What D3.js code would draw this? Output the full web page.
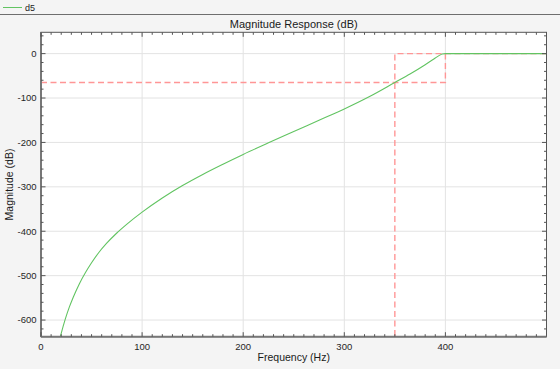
<!DOCTYPE html>
<html><head><meta charset="utf-8">
<script src="https://cdn.jsdelivr.net/npm/d3@7"></script>
<style>
html,body{margin:0;padding:0;background:#f4f4f4;}
svg{display:block;font-family:"Liberation Sans",Arial,Helvetica,sans-serif;}
</style></head>
<body>
<svg id="c" width="560" height="369"></svg>
<script>
// ---- data ----
const seriesName = "d5";
const freqHz = [16,18,20,24,28,32,38,44,50,57,65,75,85,100,120,140,160,180,200,225,250,275,300,325,350,365,380,390,394,397,400,450,500];
const magDb  = [-668,-648,-630,-598,-571,-548,-518,-493,-471,-448.5,-427,-404,-384,-357,-325,-297,-272,-249,-227,-201,-175.5,-150,-124.5,-96.5,-65,-46,-25,-10,-4,-0.8,0,0,0];
// specification mask (stopband edge 350 Hz, passband edge 400 Hz, Astop 65 dB)
const maskStopF = [0, 400, 400];
const maskStopA = [-65, -65, 0];
const maskPassF = [350, 350, 500];
const maskPassA = [-700, 0, 0];
const xTicks = [0,100,200,300,400];
const yTicks = [0,-100,-200,-300,-400,-500,-600];
const xDomain = [0, 500];
const yDomain = [-637.5, 48];
const titleText = "Magnitude Response (dB)";
const xLabel = "Frequency (Hz)";
const yLabel = "Magnitude (dB)";

// ---- layout ----
const L = 41, R = 546.5, T = 32.3, B = 336.7;
const svg = d3.select("#c");
const x = d3.scaleLinear().domain(xDomain).range([L, R]);
const y = d3.scaleLinear().domain(yDomain).range([B, T]);

// top strip (legend bar)
svg.append("rect").attr("x",0).attr("y",0).attr("width",560).attr("height",14.5).attr("fill","#f4f4f4");
svg.append("line").attr("x1",0).attr("x2",560).attr("y1",14.5).attr("y2",14.5).attr("stroke","#6e6e6e").attr("stroke-width",1);
svg.append("line").attr("x1",3).attr("x2",22).attr("y1",7.5).attr("y2",7.5).attr("stroke","#62c462").attr("stroke-width",1);
svg.append("text").attr("x",25).attr("y",11).attr("font-size",9).attr("fill","#222").text(seriesName);

// plot background
svg.append("rect").attr("x",L).attr("y",T).attr("width",R-L).attr("height",B-T).attr("fill","#fff");

// grid
const g = svg.append("g");
g.selectAll(".gx").data(xTicks).join("line")
  .attr("x1",d=>x(d)).attr("x2",d=>x(d)).attr("y1",T).attr("y2",B)
  .attr("stroke","#e3e3e3").attr("stroke-width",1);
g.selectAll(".gy").data(yTicks).join("line")
  .attr("x1",L).attr("x2",R).attr("y1",d=>y(d)).attr("y2",d=>y(d))
  .attr("stroke","#e3e3e3").attr("stroke-width",1);

// clip
svg.append("clipPath").attr("id","clip").append("rect").attr("x",L).attr("y",T).attr("width",R-L).attr("height",B-T);
const plot = svg.append("g").attr("clip-path","url(#clip)");

const lineGen = d3.line().x(d=>x(d[0])).y(d=>y(d[1]));
const maskStyle = sel => sel.attr("fill","none").attr("stroke","#ff9696").attr("stroke-width",1.4).attr("stroke-dasharray","6,3.5");
plot.append("path").datum(maskStopF.map((f,i)=>[f,maskStopA[i]])).attr("d",lineGen).call(maskStyle);
plot.append("path").datum(maskPassF.map((f,i)=>[f,maskPassA[i]])).attr("d",lineGen).call(maskStyle);

const curve = d3.line().x(d=>x(d[0])).y(d=>y(d[1])).curve(d3.curveMonotoneX);
plot.append("path").datum(freqHz.map((f,i)=>[f,magDb[i]])).attr("d",curve)
  .attr("fill","none").attr("stroke","#62c462").attr("stroke-width",1.1);

// axes box & ticks
const axCol = "#555";
const ax = svg.append("g");
ax.append("rect").attr("x",L).attr("y",T).attr("width",R-L).attr("height",B-T).attr("fill","none").attr("stroke",axCol).attr("stroke-width",1);
ax.append("line").attr("x1",L).attr("x2",L).attr("y1",T).attr("y2",B).attr("stroke","#777").attr("stroke-width",2);
ax.append("line").attr("x1",L).attr("x2",R).attr("y1",B).attr("y2",B).attr("stroke","#777").attr("stroke-width",2);

const xMinor = d3.range(0, 500, 10).filter(v=>v%100!==0);
const yMinor = d3.range(-620, 48, 20).filter(v=>v%100!==0);
function ticksX(vals, len){
  ax.selectAll(null).data(vals).join("line").attr("x1",d=>x(d)).attr("x2",d=>x(d)).attr("y1",B).attr("y2",B-len).attr("stroke",axCol);
  ax.selectAll(null).data(vals).join("line").attr("x1",d=>x(d)).attr("x2",d=>x(d)).attr("y1",T).attr("y2",T+len).attr("stroke",axCol);
}
function ticksY(vals, len){
  ax.selectAll(null).data(vals).join("line").attr("y1",d=>y(d)).attr("y2",d=>y(d)).attr("x1",L).attr("x2",L+len).attr("stroke",axCol);
  ax.selectAll(null).data(vals).join("line").attr("y1",d=>y(d)).attr("y2",d=>y(d)).attr("x1",R).attr("x2",R-len).attr("stroke",axCol);
}
ticksX(xTicks,4.5); ticksX(xMinor,2.5);
ticksY(yTicks,4.5); ticksY(yMinor,2.5);

// tick labels
svg.selectAll(".xl").data(xTicks).join("text").attr("x",d=>x(d)).attr("y",349.5)
  .attr("text-anchor","middle").attr("font-size",9.5).attr("fill","#262626").text(d=>d);
svg.selectAll(".yl").data(yTicks).join("text").attr("x",L-4.5).attr("y",d=>y(d)+3.4)
  .attr("text-anchor","end").attr("font-size",9.5).attr("fill","#262626").text(d=>d);

// titles
svg.append("text").attr("x",(L+R)/2).attr("y",27.5).attr("text-anchor","middle").attr("font-size",11).attr("fill","#1a1a1a").text(titleText);
svg.append("text").attr("x",(L+R)/2).attr("y",361).attr("text-anchor","middle").attr("font-size",10.5).attr("fill","#1a1a1a").text(xLabel);
svg.append("text").attr("transform",`translate(13,${(T+B)/2}) rotate(-90)`).attr("text-anchor","middle").attr("font-size",10.5).attr("fill","#1a1a1a").text(yLabel);
</script>
</body></html>
